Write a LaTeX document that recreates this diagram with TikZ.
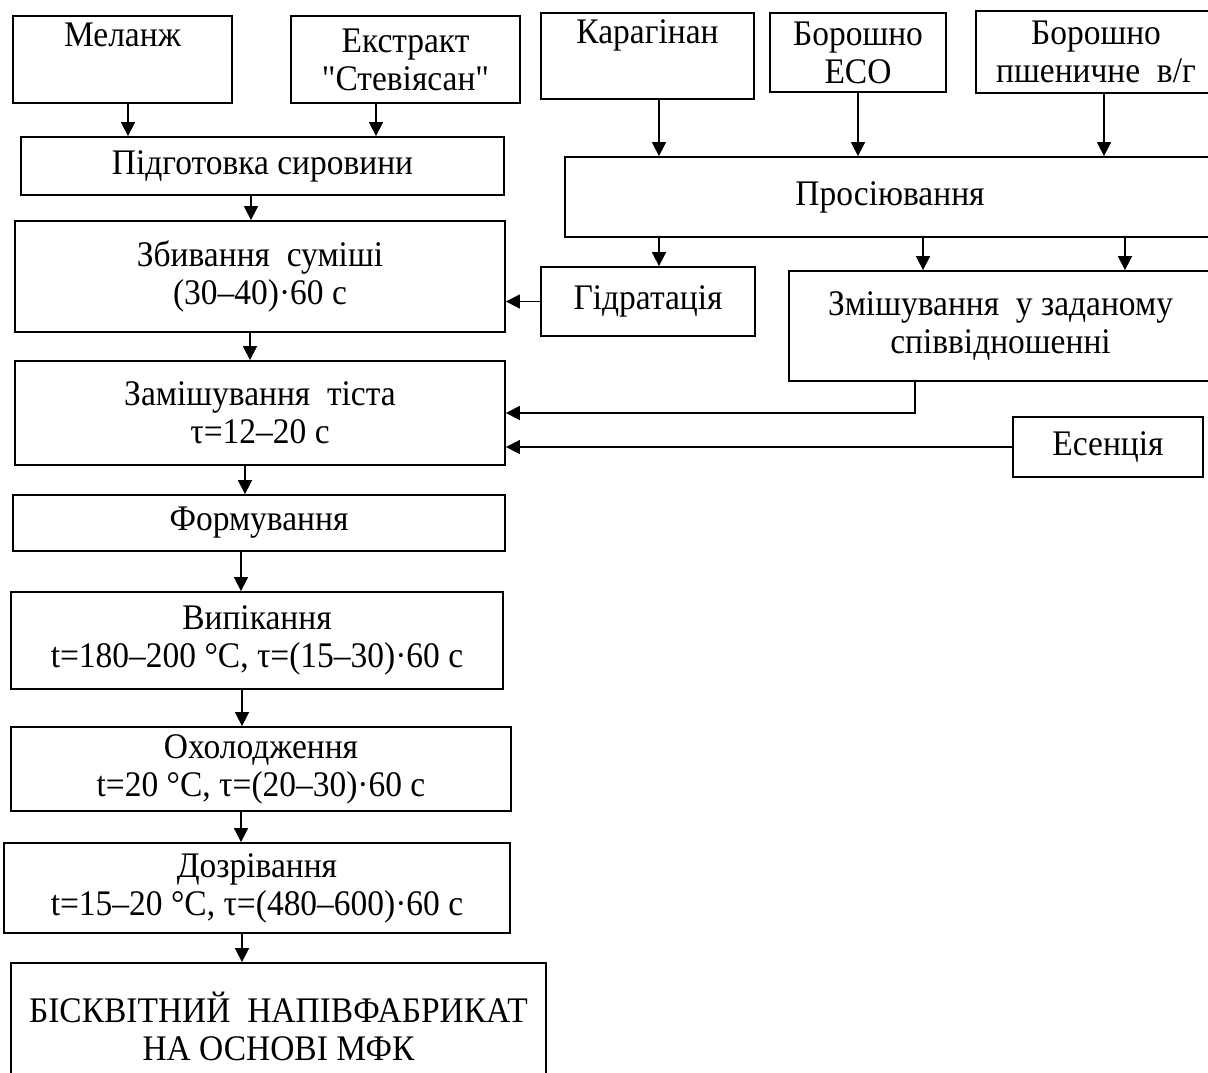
\documentclass[tikz,border=0pt]{standalone}
\usepackage{fontspec}
\setmainfont[FakeStretch=0.93,Ligatures=TeXOff]{Liberation Serif}
\usetikzlibrary{arrows.meta,positioning}
\tikzset{
  box/.style={draw, line width=1.8pt, align=center, inner sep=0pt, font=\fontsize{36}{38}\selectfont},
  arrow/.style={-{Triangle[length=14pt,width=14pt]}, line width=1.6pt}
}

\begin{document}
\begin{tikzpicture}[x=1pt, y=-1pt]
  \useasboundingbox (0,0) rectangle (1208,1072);
  \clip (0,0) rectangle (1208,1072);

  % raw materials
  \node[box, minimum width=219pt, minimum height=87pt] (melange) at (122.5,59.5) {Меланж\\\strut};
  \node[box, minimum width=229pt, minimum height=87pt] (ekstr) at (405.5,59.5) {Екстракт\\"Стевіясан"};
  \node[box, minimum width=213pt, minimum height=86pt] (karag) at (647.5,56) {Карагінан\\\strut};
  \node[box, minimum width=176pt, minimum height=79pt] (boreco) at (858,52.5) {Борошно\\ЕСО};
  \node[box, minimum width=240pt, minimum height=82pt] (borpsh) at (1096,52) {Борошно\\пшеничне~ в/г};

  % preparation
  \node[box, minimum width=483pt, minimum height=58pt] (prep) at (262.5,166) {Підготовка сировини};
  \node[box, minimum width=650pt, minimum height=80pt] (prosiv) at (890,197) {Просіювання};
  \node[box, minimum width=490pt, minimum height=111pt] (zbyv) at (260,276.5) {Збивання~ суміші\\(30–40)·60 с};
  \node[box, minimum width=214pt, minimum height=69pt] (gidr) at (648,301.5) {Гідратація};
  \node[box, minimum width=423pt, minimum height=110pt] (zmish) at (1000.5,326) {Змішування~ у заданому\\співвідношенні};
  \node[box, minimum width=490pt, minimum height=104pt] (zamish) at (260,413) {Замішування~ тіста\\τ=12–20 с};
  \node[box, minimum width=190pt, minimum height=60pt] (esen) at (1108,447) {Есенція};

  % baking line
  \node[box, minimum width=492pt, minimum height=56pt] (form) at (259,523) {Формування};
  \node[box, minimum width=492pt, minimum height=97pt] (vyp) at (257,640.5) {Випікання\\t=180–200 °C, τ=(15–30)·60 с};
  \node[box, minimum width=500pt, minimum height=84pt] (okhol) at (261,769) {Охолодження\\t=20 °C, τ=(20–30)·60 с};
  \node[box, minimum width=506pt, minimum height=90pt] (dozr) at (257,888) {Дозрівання\\t=15–20 °C, τ=(480–600)·60 с};
  \node[box, minimum width=535pt, minimum height=127pt] (result) at (278.5,1026.5) {БІСКВІТНИЙ~ НАПІВФАБРИКАТ\\НА ОСНОВІ МФК};

  % arrows
  \draw[arrow] ([xshift=5.5pt]melange.south) -- ([xshift=5.5pt]melange.south |- prep.north);
  \draw[arrow] ([xshift=-29.5pt]ekstr.south) -- ([xshift=-29.5pt]ekstr.south |- prep.north);
  \draw[arrow] ([xshift=11.5pt]karag.south) -- ([xshift=11.5pt]karag.south |- prosiv.north);
  \draw[arrow] (boreco.south) -- (prosiv.north -| boreco.south);
  \draw[arrow] ([xshift=8pt]borpsh.south) -- ([xshift=8pt]borpsh.south |- prosiv.north);
  \draw[arrow] ([xshift=-11.5pt]prep.south) -- ([xshift=-11.5pt]prep.south |- zbyv.north);
  \draw[arrow] ([xshift=11pt]gidr.north |- prosiv.south) -- ([xshift=11pt]gidr.north);
  \draw[arrow] ([xshift=-77.5pt]zmish.north |- prosiv.south) -- ([xshift=-77.5pt]zmish.north);
  \draw[arrow] ([xshift=124.5pt]zmish.north |- prosiv.south) -- ([xshift=124.5pt]zmish.north);
  \draw[arrow] (gidr.west) -- (zbyv.east |- gidr.west);
  \draw[arrow] ([xshift=-10pt]zbyv.south) -- ([xshift=-10pt]zbyv.south |- zamish.north);
  \draw[arrow] ([xshift=-85.5pt]zmish.south) |- (zamish.east);
  \draw[arrow] (esen.west) -- (zamish.east |- esen.west);
  \draw[arrow] ([xshift=-15pt]zamish.south) -- ([xshift=-15pt]zamish.south |- form.north);
  \draw[arrow] ([xshift=-18pt]form.south) -- ([xshift=-18pt]form.south |- vyp.north);
  \draw[arrow] ([xshift=-15pt]vyp.south) -- ([xshift=-15pt]vyp.south |- okhol.north);
  \draw[arrow] ([xshift=-20pt]okhol.south) -- ([xshift=-20pt]okhol.south |- dozr.north);
  \draw[arrow] ([xshift=-15pt]dozr.south) -- ([xshift=-15pt]dozr.south |- result.north);
\end{tikzpicture}
\end{document}
